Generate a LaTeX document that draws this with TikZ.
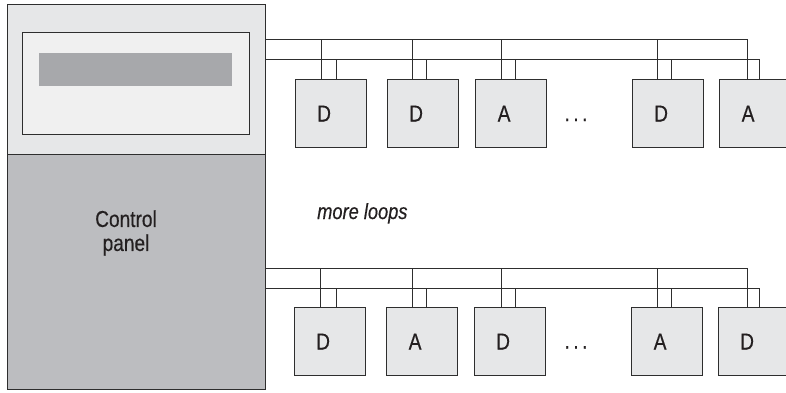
\documentclass[tikz,border=0pt]{standalone}
\usepackage{fontspec}
\setmainfont{Liberation Sans}[FakeStretch=0.83, FakeBold=0.4]
\usetikzlibrary{calc}
\definecolor{lineC}{HTML}{2E2E2E}
\definecolor{textC}{HTML}{231F20}
\definecolor{topfill}{HTML}{E6E7E8}
\definecolor{screenfill}{HTML}{F0F0F0}
\definecolor{barfill}{HTML}{A7A8AB}
\definecolor{panelfill}{HTML}{BCBDC0}
\definecolor{boxfill}{HTML}{E6E7E8}
\tikzset{
  frame/.style={draw=lineC, line width=1.2pt, anchor=north west, inner sep=0pt},
  devbox/.style={frame, fill=boxfill, minimum width=71pt, minimum height=68pt},
  devtxt/.style={font=\fontsize{23}{25}\selectfont, text=textC},
  bus/.style={draw=lineC, line width=1pt},
}
\newcommand{\dev}[4]{\node[devbox, label={[devtxt, xshift=-7pt]center:#4}] (#1) at (#2,#3) {};}
\newcommand{\drops}[5]{%
  \path ($(#1.north west)+(#2,0)$) coordinate (#1u);
  \path ($(#1.north west)+(#3,0)$) coordinate (#1l);
  \draw[bus] (#1u) -- (#1u |- #4);
  \draw[bus] (#1l) -- (#1l |- #5);}
\begin{document}
\begin{tikzpicture}[x=1pt,y=-1pt]
\useasboundingbox (0,0) rectangle (786,392);
\fill[white] (0,0) rectangle (786,392);
% control panel
\node[frame, fill=topfill, minimum width=258pt, minimum height=150pt] (top) at (7,4) {};
\node[frame, fill=panelfill, minimum width=258pt, minimum height=235pt] (panel) at (7,154) {};
\node[frame, fill=screenfill, minimum width=227pt, minimum height=102pt] (screen) at (22,32) {};
\node[anchor=north west, inner sep=0pt, fill=barfill, minimum width=193pt, minimum height=33pt] (bar) at (39,53) {};
\node[font=\fontsize{23}{24}\selectfont, text=textC, align=center, inner sep=0pt] (cptext) at (126,233) {Control\\panel};
\node[font=\fontsize{22}{24}\selectfont\itshape, text=textC, anchor=base west, inner sep=0pt] (more) at (317,219) {more loops};
% top row
\dev{b1}{295}{79}{D}
\dev{b2}{387}{79}{D}
\dev{b3}{475}{79}{A}
\dev{b4}{632}{79}{D}
\dev{b5}{719}{79}{A}
\node[devtxt, anchor=base, inner sep=0pt] (dots1) at (576,121) {.\hspace{3.5pt}.\hspace{3.5pt}.};
% bottom row
\dev{c1}{294}{307}{D}
\dev{c2}{386}{307}{A}
\dev{c3}{474}{307}{D}
\dev{c4}{631}{307}{A}
\dev{c5}{718}{307}{D}
\node[devtxt, anchor=base, inner sep=0pt] (dots2) at (576,348.5) {.\hspace{3.5pt}.\hspace{3.5pt}.};
% bus levels
\coordinate (tu) at (0,39.5);
\coordinate (tl) at (0,59);
\coordinate (bu) at (0,268);
\coordinate (bl) at (0,288);
% top loop
\path ($(b5.north west)+(28,0)$) coordinate (b5u);
\path ($(b5.north west)+(40,0)$) coordinate (b5l);
\draw[bus] (top.east |- tu) -| (b5u);
\draw[bus] (top.east |- tl) -| (b5l);
\drops{b1}{26}{41}{tu}{tl}
\drops{b2}{25}{39}{tu}{tl}
\drops{b3}{26}{40}{tu}{tl}
\drops{b4}{25}{39}{tu}{tl}
% bottom loop
\path ($(c5.north west)+(29,0)$) coordinate (c5u);
\path ($(c5.north west)+(41,0)$) coordinate (c5l);
\draw[bus] (panel.east |- bu) -| (c5u);
\draw[bus] (panel.east |- bl) -| (c5l);
\drops{c1}{26}{42}{bu}{bl}
\drops{c2}{26}{40}{bu}{bl}
\drops{c3}{27}{41}{bu}{bl}
\drops{c4}{26}{40}{bu}{bl}
\end{tikzpicture}
\end{document}
